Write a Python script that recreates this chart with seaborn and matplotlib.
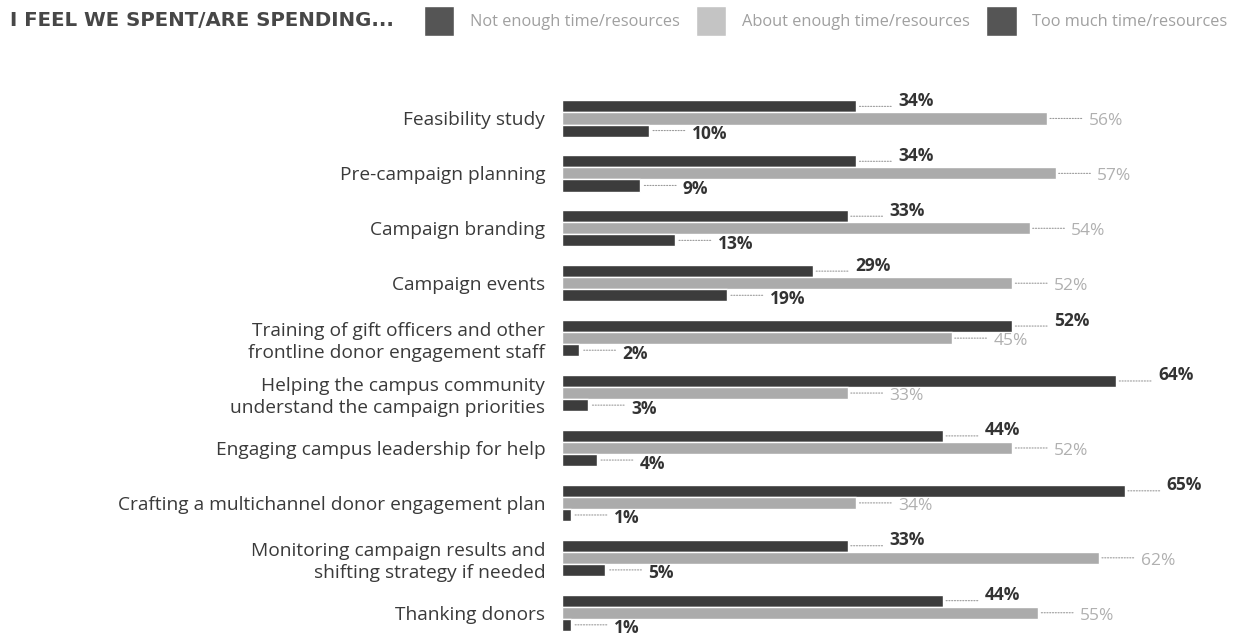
import matplotlib
matplotlib.use("Agg")
import matplotlib.pyplot as plt
import seaborn as sns
import pandas as pd
from matplotlib.patches import Patch

categories = [
    "Feasibility study",
    "Pre-campaign planning",
    "Campaign branding",
    "Campaign events",
    "Training of gift officers and other\nfrontline donor engagement staff",
    "Helping the campus community\nunderstand the campaign priorities",
    "Engaging campus leadership for help",
    "Crafting a multichannel donor engagement plan",
    "Monitoring campaign results and\nshifting strategy if needed",
    "Thanking donors",
]
series_names = ["Not enough time/resources", "About enough time/resources", "Too much time/resources"]
not_enough = [34, 34, 33, 29, 52, 64, 44, 65, 33, 44]
about_enough = [56, 57, 54, 52, 45, 33, 52, 34, 62, 55]
too_much = [10, 9, 13, 19, 2, 3, 4, 1, 5, 1]
title_text = "I FEEL WE SPENT/ARE SPENDING..."

rows = []
for name, vals in zip(series_names, [not_enough, about_enough, too_much]):
    for c, v in zip(categories, vals):
        rows.append({"category": c, "series": name, "value": v})
df = pd.DataFrame(rows)

sns.set_theme(style="white")
plt.rcParams["font.family"] = ["Open Sans", "DejaVu Sans"]

dark = "#3c3c3c"
light = "#ababab"
palette = [dark, light, dark]

fig = plt.figure(figsize=(12.42, 6.38), dpi=100)
ax = fig.add_axes([562 / 1242, 0.0, 1 - 562 / 1242, 1 - 91 / 638])

sns.barplot(data=df, y="category", x="value", hue="series", order=categories,
            hue_order=series_names, palette=palette, orient="h", width=0.66,
            saturation=1, ax=ax, legend=False, errorbar=None)

ax.set_xlim(0, (1242 - 562) / 8.66)
ax.set_ylim(9.46, -0.5)
sns.despine(ax=ax, left=True, bottom=True)
ax.set_xticks([])
ax.set_xlabel("")
ax.set_ylabel("")
ax.tick_params(axis="y", length=0, pad=12, labelsize=13.8, labelcolor="#3a3a3a")
for t in ax.get_yticklabels():
    t.set_linespacing(1.28)

# labels
styles = [
    dict(dx=30, dy=4, color="#333333", weight="bold"),
    dict(dx=30, dy=-2, color="#b0b0b0", weight="normal"),
    dict(dx=31, dy=-2.5, color="#333333", weight="bold"),
]
for cont, st in zip(ax.containers, styles):
    for bar in cont:
        v = bar.get_width()
        yc = bar.get_y() + bar.get_height() / 2
        ax.annotate("", xy=(v, yc), xytext=(st["dx"] - 5, 0), textcoords="offset points",
                    arrowprops=dict(arrowstyle="-", linestyle=(0, (1, 1.5)), color="#9a9a9a",
                                    lw=0.8, shrinkA=0, shrinkB=2))
        ax.annotate(f"{v:.0f}%", xy=(v, yc), xytext=(st["dx"], st["dy"]),
                    textcoords="offset points", ha="left", va="center",
                    fontsize=12.5, color=st["color"], fontweight=st["weight"],
                    annotation_clip=False)

# header / legend
fig.text(10 / 1242, 1 - 21 / 638, title_text, fontsize=14.2, fontweight="bold",
         color="#474747", ha="left", va="center", family=["DejaVu Sans"])
handles = [Patch(facecolor="#555555"), Patch(facecolor="#c4c4c4"), Patch(facecolor="#555555")]
leg = fig.legend(handles, series_names, ncol=3, loc="center left",
                 bbox_to_anchor=(424 / 1242, 1 - 21 / 638), frameon=False,
                 fontsize=11.8, handlelength=1.85, handleheight=2.5,
                 handletextpad=0.95, columnspacing=1.0, borderpad=0, borderaxespad=0)
for t in leg.get_texts():
    t.set_color("#a0a0a0")

fig.savefig("out.png", dpi=100)
